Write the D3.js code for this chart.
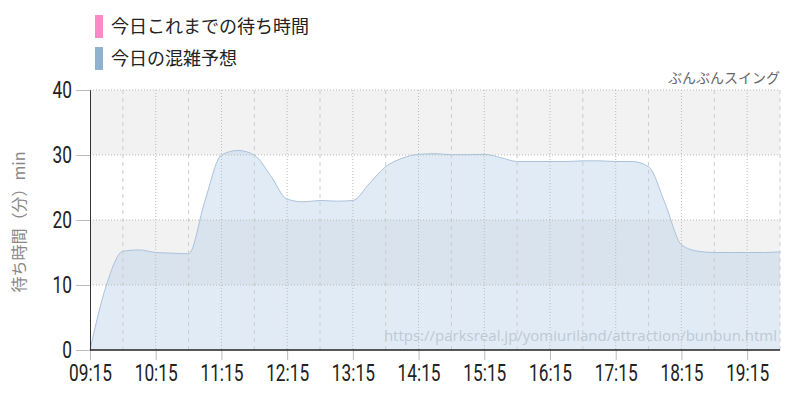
<!DOCTYPE html>
<html><head><meta charset="utf-8">
<script src="https://cdn.jsdelivr.net/npm/d3@7"></script>
<style>
body{margin:0;background:#fff;}
svg{display:block;}
.tick text{font-family:"Roboto",sans-serif;}
</style></head>
<body>
<svg id="c" width="800" height="400"></svg>
<script>
const title = "ぶんぶんスイング";
const legendLabels = ["今日これまでの待ち時間", "今日の混雑予想"];
const yLabel = "待ち時間（分）min";
const watermark = "https://parksreal.jp/yomiuriland/attraction/bunbun.html";
const times = ["09:15","09:30","09:45","10:00","10:15","10:30","10:45","11:00","11:15","11:30","11:45","12:00","12:15","12:30","12:45","13:00","13:15","13:30","13:45","14:00","14:15","14:30","14:45","15:00","15:15","15:30","15:45","16:00","16:15","16:30","16:45","17:00","17:15","17:30","17:45","18:00","18:15","18:30","18:45","19:00","19:15","19:30","19:45"];
const forecast = [0,10,15.2,15.4,15.0,14.9,14.8,23,30,30.7,30,26.8,23.2,22.8,23.0,22.9,23.0,25.6,28.2,29.5,30.1,30.2,30.05,30.05,30.1,29.6,29.0,29.0,29.0,29.0,29.1,29.1,29.0,29.0,28.2,22.6,16.2,15.2,15.0,15.0,15.0,15.0,15.1];
const actual = [];
const yTicks = [0,10,20,30,40];
const xTickLabels = ["09:15","10:15","11:15","12:15","13:15","14:15","15:15","16:15","17:15","18:15","19:15"];
const halfHours = ["09:45","10:45","11:45","12:45","13:45","14:45","15:45","16:45","17:45","18:45","19:45"];
const bands = [[10,20],[30,40]];

const parse = d3.timeParse("%H:%M");
const svg = d3.select("#c");
const L=90,R=780,T=90,B=350;
const x = d3.scaleTime().domain([parse("09:15"), parse("19:45")]).range([L,R]);
const y = d3.scaleLinear().domain([0,40]).range([B,T]);
const SX = 0.72;

// bands
svg.selectAll("rect.band").data(bands).join("rect")
  .attr("x",L).attr("width",R-L)
  .attr("y",d=>y(d[1])).attr("height",d=>y(d[0])-y(d[1]))
  .attr("fill","#f2f2f2");

// watermark
svg.append("text").attr("x",777).attr("y",341).attr("text-anchor","end")
  .attr("font-family","'Open Sans','Noto Sans',sans-serif").attr("font-size",15)
  .attr("fill","#c2c6cb").text(watermark);

// area
const data = times.map((t,i)=>({t:parse(t),v:forecast[i]}));
svg.append("path").datum(data)
  .attr("d", d3.area().x(d=>x(d.t)).y0(B).y1(d=>y(d.v)).curve(d3.curveMonotoneX))
  .attr("fill","rgba(180,206,230,0.4)");
svg.append("path").datum(data)
  .attr("d", d3.line().x(d=>x(d.t)).y(d=>y(d.v)).curve(d3.curveMonotoneX))
  .attr("fill","none").attr("stroke","#a9c2dc").attr("stroke-width",1);

// grid
svg.selectAll("line.hg").data(yTicks.filter(v=>v>0)).join("line")
  .attr("x1",L).attr("x2",R).attr("y1",d=>y(d)).attr("y2",d=>y(d))
  .attr("stroke","#bbb").attr("stroke-dasharray","1,2");
svg.selectAll("line.vg").data(xTickLabels.slice(1)).join("line")
  .attr("x1",d=>x(parse(d))).attr("x2",d=>x(parse(d))).attr("y1",T).attr("y2",B)
  .attr("stroke","#bbb").attr("stroke-dasharray","1,2");
svg.selectAll("line.vh").data(halfHours).join("line")
  .attr("x1",d=>x(parse(d))).attr("x2",d=>x(parse(d))).attr("y1",T).attr("y2",B)
  .attr("stroke","#ccc").attr("stroke-dasharray","4,4");

function condense(sel){
  sel.each(function(){
    const t = d3.select(this);
    const xv = +t.attr("x") || 0;
    t.attr("x", xv/SX).attr("transform", `scale(${SX},1)`);
  });
}

// axes
const yAxis = svg.append("g").attr("transform",`translate(${L},0)`)
  .call(d3.axisLeft(y).tickValues(yTicks).tickSize(14).tickPadding(4));
yAxis.select(".domain").attr("stroke","#333");
yAxis.selectAll(".tick line").attr("stroke","#bbb");
yAxis.selectAll(".tick text").attr("font-size",24).attr("fill","#222").call(condense);

const xAxis = svg.append("g").attr("transform",`translate(0,${B})`)
  .call(d3.axisBottom(x).tickValues(xTickLabels.map(parse)).tickFormat(d3.timeFormat("%H:%M")).tickSize(10).tickPadding(4));
xAxis.select(".domain").remove();
xAxis.selectAll(".tick line").attr("stroke","#bbb");
xAxis.selectAll(".tick text").attr("font-size",24).attr("fill","#222").call(condense);
svg.append("line").attr("x1",L).attr("x2",R).attr("y1",B).attr("y2",B).attr("stroke","#222").attr("stroke-width",1.5);

// y label
svg.append("text").attr("transform","translate(25,222) rotate(-90)")
  .attr("text-anchor","middle").attr("font-family","'Noto Sans CJK JP',sans-serif")
  .attr("font-size",16).attr("fill","#888").text(yLabel);

// title
svg.append("text").attr("x",780).attr("y",83).attr("text-anchor","end")
  .attr("font-family","'Noto Sans CJK JP',sans-serif").attr("font-size",14)
  .attr("fill","#666").text(title);

// legend
const colors = ["#ff88c8","#8fb2d0"];
const lg = svg.selectAll("g.lg").data(legendLabels).join("g").attr("transform",(d,i)=>`translate(95,${15+i*32})`);
lg.append("rect").attr("width",8).attr("height",23).attr("fill",(d,i)=>colors[i]);
lg.append("text").attr("x",16).attr("y",18).attr("font-family","'Noto Sans CJK JP',sans-serif")
  .attr("font-size",18).attr("fill","#222").text(d=>d);
</script>
</body></html>
